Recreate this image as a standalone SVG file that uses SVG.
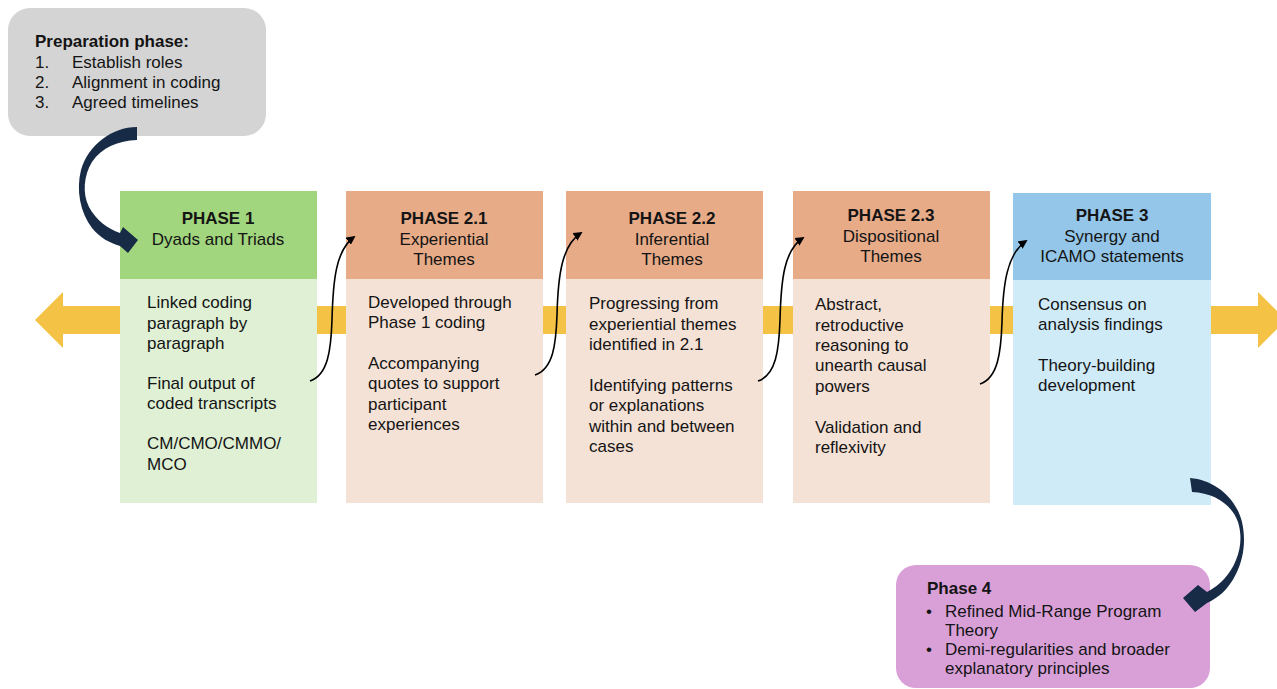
<svg xmlns="http://www.w3.org/2000/svg" width="1277" height="689" viewBox="0 0 1277 689">
  <style>
    text { font-family: "Liberation Sans", Arial, Helvetica, sans-serif; fill: #141414; font-size: 17px; }
    .hd { text-anchor: middle; }
    .b { font-weight: bold; }
    .thin { fill: none; stroke: #000; stroke-width: 1.6; marker-end: url(#tip); }
    .big { fill: #172a46; }
  </style>
  <defs>
    <marker id="tip" viewBox="0 0 10 10" refX="8" refY="5" markerWidth="9" markerHeight="9" markerUnits="userSpaceOnUse" orient="auto">
      <path d="M0,0 L10,5 L0,10 Z" fill="#000"/>
    </marker>
  </defs>

  <rect width="1277" height="689" fill="#ffffff"/>

  <!-- timeline band, double-headed -->
  <g id="timeline">
    <rect x="62" y="306" width="1197" height="28" fill="#f4c244"/>
    <path d="M35,320 L63,292 L63,348 Z" fill="#f4c244"/>
    <path d="M1258,292 L1286,320 L1258,348 Z" fill="#f4c244"/>
  </g>

  <g id="prep">
    <rect x="8" y="8" width="258" height="128" rx="22" fill="#d4d4d4"/>
    <text class="b" x="35" y="47">Preparation phase:</text>
    <text x="35" y="68">1.</text><text x="72" y="68">Establish roles</text>
    <text x="35" y="88">2.</text><text x="72" y="88">Alignment in coding</text>
    <text x="35" y="107.5">3.</text><text x="72" y="107.5">Agreed timelines</text>
  </g>

  <g id="phase1">
    <rect x="120" y="279" width="197" height="224" fill="#dff0d5"/>
    <rect x="120" y="191" width="197" height="88" fill="#a2d67e"/>
    <text class="hd" x="218" y="224"><tspan class="b">PHASE 1</tspan><tspan x="218" y="245">Dyads and Triads</tspan></text>
    <text x="147" y="308">Linked coding<tspan x="147" y="328.5">paragraph by</tspan><tspan x="147" y="349">paragraph</tspan><tspan x="147" y="389">Final output of</tspan><tspan x="147" y="409">coded transcripts</tspan><tspan x="147" y="449">CM/CMO/CMMO/</tspan><tspan x="147" y="469.5">MCO</tspan></text>
  </g>

  <g id="phase21">
    <rect x="346" y="279" width="197" height="224" fill="#f5e2d6"/>
    <rect x="346" y="191" width="197" height="88" fill="#e7ab88"/>
    <text class="hd" x="444" y="223.5"><tspan class="b">PHASE 2.1</tspan><tspan x="444" y="245">Experiential</tspan><tspan x="444" y="265">Themes</tspan></text>
    <text x="368" y="308">Developed through<tspan x="368" y="328">Phase 1 coding</tspan><tspan x="368" y="369">Accompanying</tspan><tspan x="368" y="389">quotes to support</tspan><tspan x="368" y="410">participant</tspan><tspan x="368" y="430">experiences</tspan></text>
  </g>

  <g id="phase22">
    <rect x="566" y="279" width="197" height="224" fill="#f5e2d6"/>
    <rect x="566" y="191" width="197" height="88" fill="#e7ab88"/>
    <text class="hd" x="672" y="223.5"><tspan class="b">PHASE 2.2</tspan><tspan x="672" y="245">Inferential</tspan><tspan x="672" y="265">Themes</tspan></text>
    <text x="589" y="309">Progressing from<tspan x="589" y="330">experiential themes</tspan><tspan x="589" y="350">identified in 2.1</tspan><tspan x="589" y="391">Identifying patterns</tspan><tspan x="589" y="411">or explanations</tspan><tspan x="589" y="432">within and between</tspan><tspan x="589" y="452">cases</tspan></text>
  </g>

  <g id="phase23">
    <rect x="793" y="279" width="197" height="224" fill="#f5e2d6"/>
    <rect x="793" y="191" width="197" height="88" fill="#e7ab88"/>
    <text class="hd" x="891" y="221"><tspan class="b">PHASE 2.3</tspan><tspan x="891" y="242">Dispositional</tspan><tspan x="891" y="262">Themes</tspan></text>
    <text x="815" y="310">Abstract,<tspan x="815" y="331">retroductive</tspan><tspan x="815" y="351">reasoning to</tspan><tspan x="815" y="371">unearth causal</tspan><tspan x="815" y="392">powers</tspan><tspan x="815" y="433">Validation and</tspan><tspan x="815" y="453">reflexivity</tspan></text>
  </g>

  <g id="phase3">
    <rect x="1013" y="280" width="198" height="225" fill="#d0ebf8"/>
    <rect x="1013" y="193" width="198" height="87" fill="#93c6e8"/>
    <text class="hd" x="1112" y="221"><tspan class="b">PHASE 3</tspan><tspan x="1112" y="242">Synergy and</tspan><tspan x="1112" y="262">ICAMO statements</tspan></text>
    <text x="1038" y="310">Consensus on<tspan x="1038" y="330">analysis findings</tspan><tspan x="1038" y="371">Theory-building</tspan><tspan x="1038" y="391">development</tspan></text>
  </g>

  <g id="phase4">
    <rect x="896" y="565" width="314" height="123" rx="20" fill="#d9a0d8"/>
    <text class="b" x="927" y="594">Phase 4</text>
    <text x="926" y="617">•</text><text x="945" y="617">Refined Mid-Range Program</text>
    <text x="945" y="636">Theory</text>
    <text x="926" y="655">•</text><text x="945" y="655">Demi-regularities and broader</text>
    <text x="945" y="674">explanatory principles</text>
  </g>

  <g id="connectors">
    <!-- preparation to phase 1 -->
    <path class="big" d="M137,127 C112,127 88,145 81,170 C76,190 80,212 92,228 C100,238 110,243 120,246 L128,253 L138,240 L123,227 L120,233 C108,229 96,220 89,207 C82,193 84,175 92,162 C102,147 118,141 137,140 Z"/>
    <!-- phase 3 to phase 4 -->
    <path class="big" d="M1190,478 C1215,480 1236,498 1242,522 C1246,540 1244,558 1236,574 C1228,590 1218,598 1207,603 L1195,612 L1183,598 L1198,585 L1207,592 C1220,585 1230,575 1236,560 C1241,548 1242,535 1238,522 C1232,505 1215,493 1192,492 Z"/>
    <path class="thin" d="M310,381 C328,375 331,350 332,320 C333,280 336,250 354,237"/>
    <path class="thin" d="M535,375 C553,369 556,345 557,315 C558,275 562,245 581,233"/>
    <path class="thin" d="M758,381 C776,375 779,350 780,320 C781,280 784,250 803,238"/>
    <path class="thin" d="M980,384 C998,378 1001,352 1002,322 C1003,284 1007,254 1026,241"/>
  </g>
</svg>
